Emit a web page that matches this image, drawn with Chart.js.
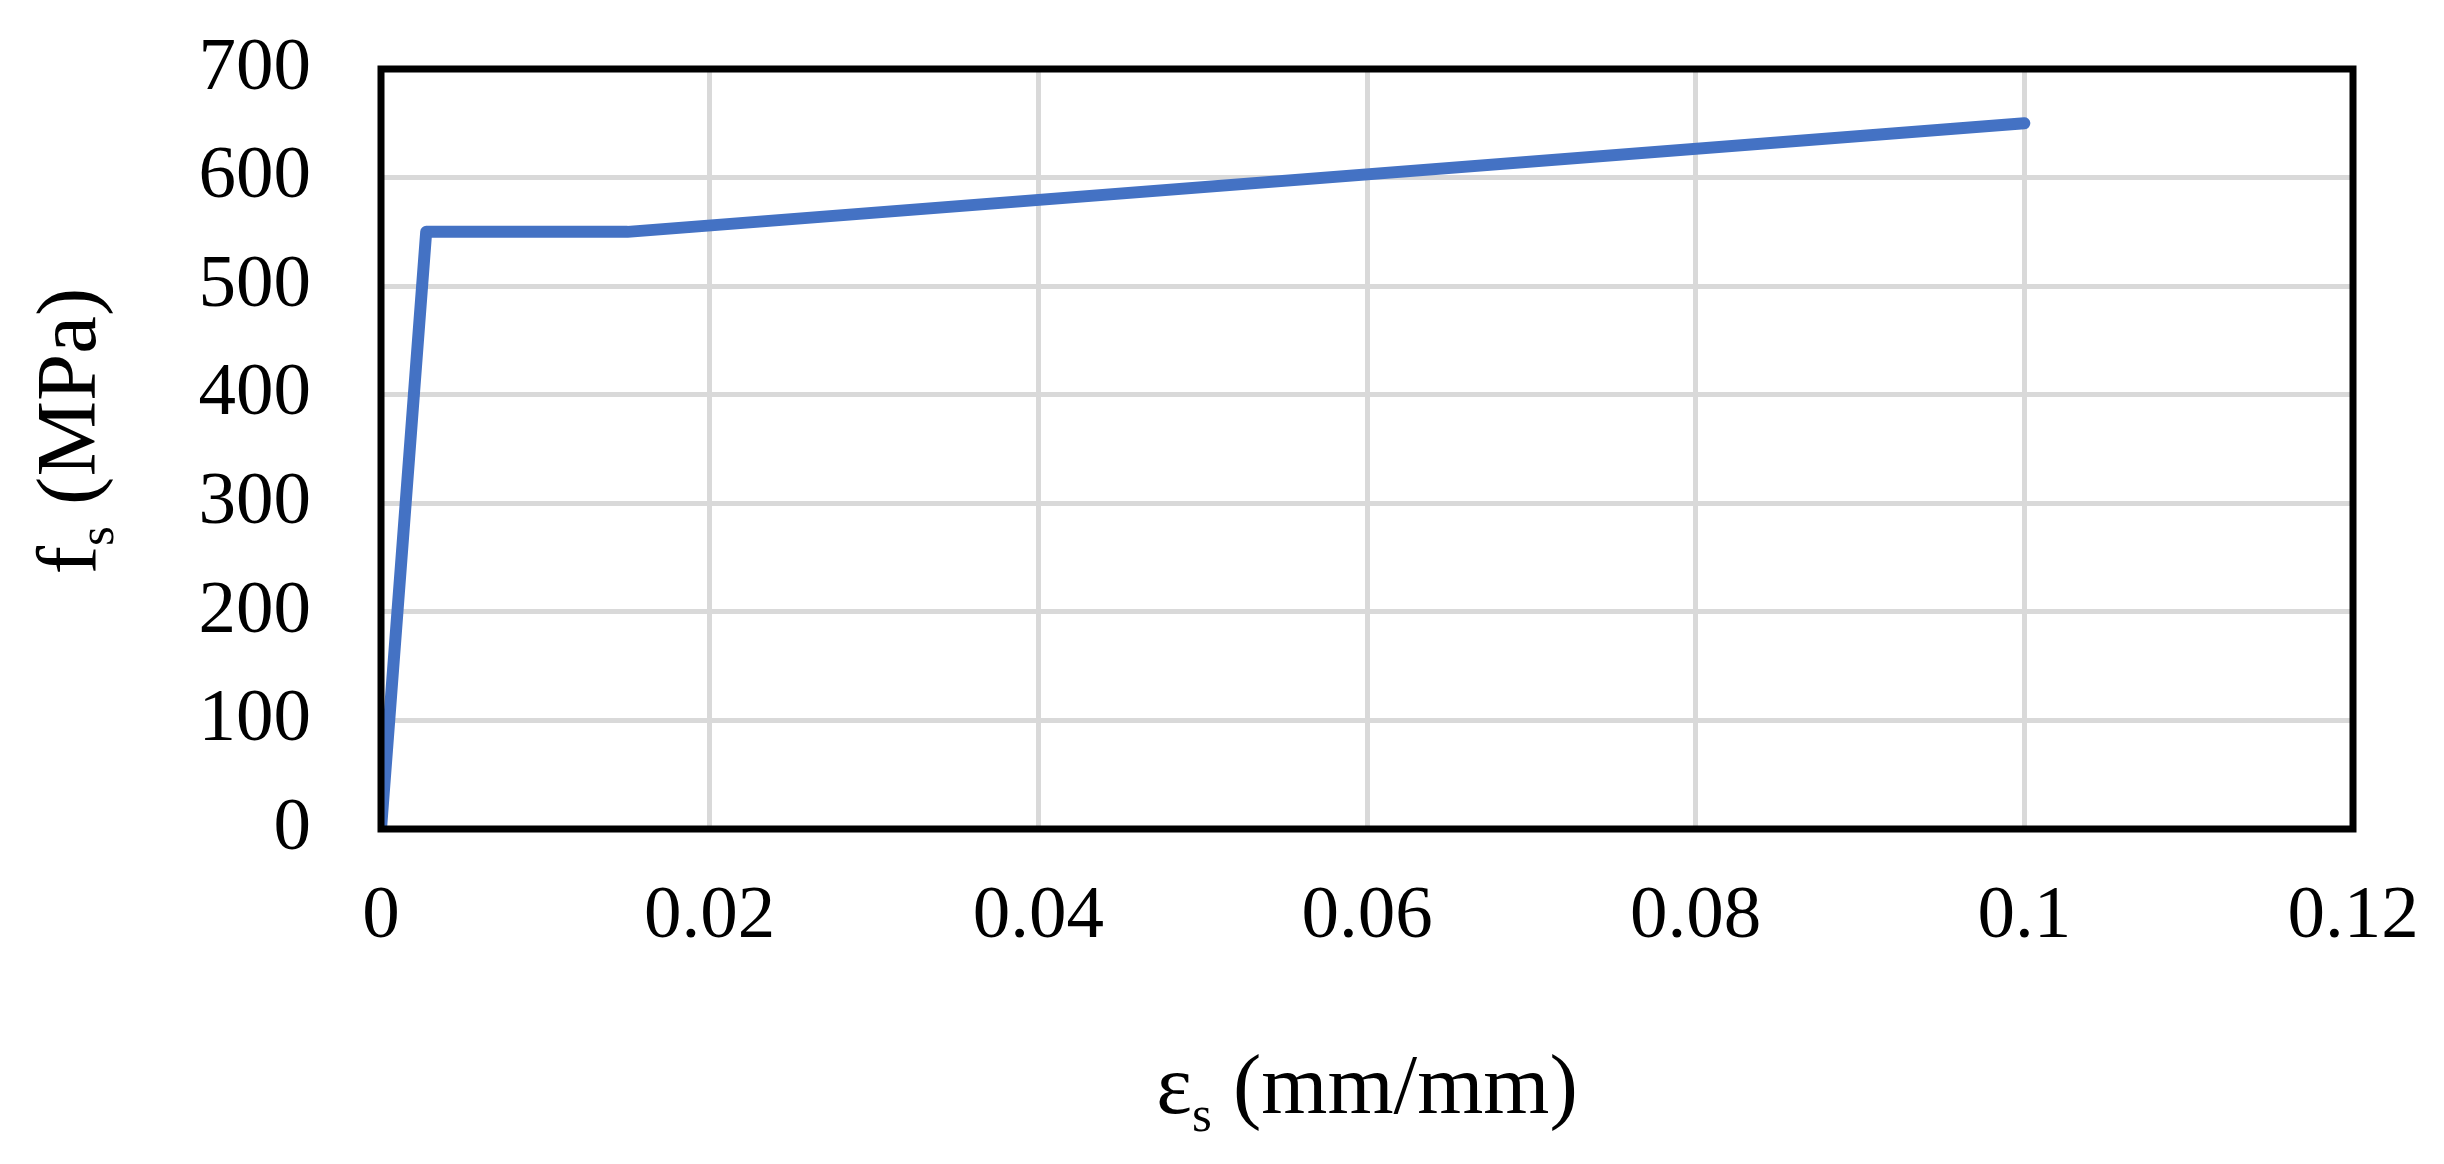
<!DOCTYPE html>
<html>
<head>
<meta charset="utf-8">
<script src="https://cdn.jsdelivr.net/npm/chart.js@4.4.1/dist/chart.umd.min.js"></script>
<style>
  html, body { margin: 0; padding: 0; background: #fff; }
  #wrap { width: 2444px; height: 1164px; position: relative; }
</style>
</head>
<body>
<div id="wrap"><canvas id="steelChart"></canvas></div>
<script>
// Stress-strain points
const strain = [0, 0.00275, 0.015, 0.1];
const stress = [0, 550, 550, 650];

// Tick values and labels
const xTickValues = [0, 0.02, 0.04, 0.06, 0.08, 0.1, 0.12];
const xTickLabels = ['0', '0.02', '0.04', '0.06', '0.08', '0.1', '0.12'];
const yTickValues = [0, 100, 200, 300, 400, 500, 600, 700];
const yTickLabels = ['0', '100', '200', '300', '400', '500', '600', '700'];

const FONT = '"Liberation Serif", "Times New Roman", serif';

// draws a title with a subscripted second letter, e.g. f + s + " (MPa)"
function drawSubTitle(ctx, main, sub, rest, size) {
    const subSize = Math.round(size * 0.6);
    ctx.font = size + 'px ' + FONT;
    const w1 = ctx.measureText(main).width;
    const w3 = ctx.measureText(rest).width;
    ctx.font = subSize + 'px ' + FONT;
    const w2 = ctx.measureText(sub).width;
    const total = w1 + w2 + w3;
    let x = -total / 2;
    ctx.textBaseline = 'alphabetic';
    ctx.textAlign = 'left';
    ctx.fillStyle = '#000';
    ctx.font = size + 'px ' + FONT;
    ctx.fillText(main, x, 0);
    x += w1;
    ctx.font = subSize + 'px ' + FONT;
    ctx.fillText(sub, x, size * 0.21);
    x += w2;
    ctx.font = size + 'px ' + FONT;
    ctx.fillText(rest, x, 0);
}

// scales should not push the plot area around, the layout padding does that
function noOverflow(scale) {
    scale.paddingTop = 0;
    scale.paddingBottom = 0;
    scale.paddingLeft = 0;
    scale.paddingRight = 0;
}

const framePlugin = {
    id: 'frame',
    afterDatasetsDraw(chart) {
        const ctx = chart.ctx;
        const a = chart.chartArea;
        ctx.save();
        ctx.strokeStyle = '#000';
        ctx.lineWidth = 7;
        ctx.strokeRect(a.left, a.top, a.right - a.left, a.bottom - a.top);
        ctx.restore();
    },
    afterDraw(chart) {
        const ctx = chart.ctx;
        const a = chart.chartArea;
        // x axis title
        ctx.save();
        ctx.translate((a.left + a.right) / 2, 1113);
        drawSubTitle(ctx, '\u03b5', 's', ' (mm/mm)', 85);
        ctx.restore();
        // y axis title
        ctx.save();
        ctx.translate(95, 431);
        ctx.rotate(-Math.PI / 2);
        drawSubTitle(ctx, 'f', 's', ' (MPa)', 85);
        ctx.restore();
    }
};

const ctx = document.getElementById('steelChart').getContext('2d');
const chart = new Chart(ctx, {
    type: 'scatter',
    data: {
        datasets: [{
            label: 'Steel',
            data: strain.map((x, i) => ({ x: x, y: stress[i] })),
            showLine: true,
            borderColor: '#4472C4',
            backgroundColor: '#4472C4',
            borderWidth: 12,
            borderJoinStyle: 'round',
            borderCapStyle: 'round',
            pointRadius: 0,
            tension: 0
        }]
    },
    options: {
        responsive: true,
        maintainAspectRatio: false,
        animation: false,
        devicePixelRatio: 1,
        layout: { padding: { top: 69, right: 91, left: 0, bottom: 0 } },
        plugins: {
            legend: { display: false },
            tooltip: { enabled: false }
        },
        scales: {
            x: {
                type: 'linear',
                min: 0,
                max: 0.12,
                afterBuildTicks: function(scale) {
                    scale.ticks = xTickValues.map(v => ({ value: v }));
                },
                afterFit: function(scale) {
                    scale.height = 1164 - 829;
                    noOverflow(scale);
                },
                ticks: {
                    autoSkip: false,
                    maxRotation: 0,
                    padding: 43,
                    color: '#000',
                    font: { family: FONT, size: 75 },
                    callback: function(value, index) {
                        return xTickLabels[index];
                    }
                },
                grid: { color: '#d9d9d9', lineWidth: 5, drawTicks: false },
                border: { display: false }
            },
            y: {
                type: 'linear',
                min: 0,
                max: 700,
                afterBuildTicks: function(scale) {
                    scale.ticks = yTickValues.map(v => ({ value: v }));
                },
                afterFit: function(scale) {
                    scale.width = 381;
                    noOverflow(scale);
                },
                ticks: {
                    autoSkip: false,
                    padding: 70,
                    color: '#000',
                    font: { family: FONT, size: 75 },
                    callback: function(value, index) {
                        return yTickLabels[index];
                    }
                },
                grid: { color: '#d9d9d9', lineWidth: 5, drawTicks: false },
                border: { display: false }
            }
        }
    },
    plugins: [framePlugin]
});
</script>
</body>
</html>
